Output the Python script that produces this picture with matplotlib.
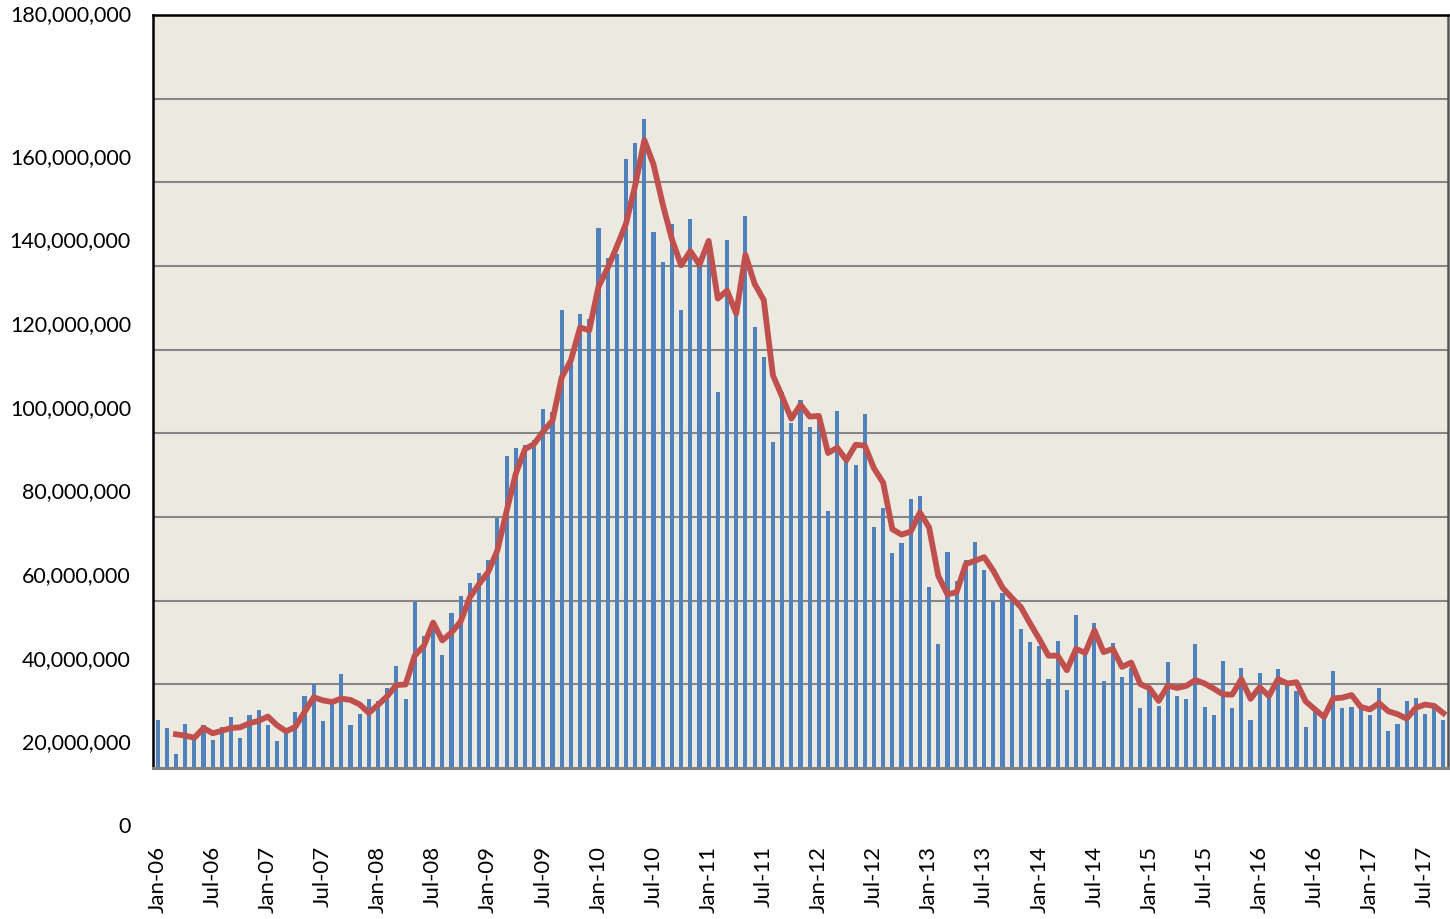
import matplotlib
matplotlib.use("Agg")
import matplotlib.pyplot as plt
import matplotlib.transforms as mtransforms
import pandas as pd

# monthly values in millions, Jan-06 .. Sep-17 (one row per year)
values_m = [
    11.4, 9.5, 3.3, 10.4, 8.0, 10.2, 6.7, 9.8, 12.2, 7.2, 12.7, 13.9,          # 2006
    10.3, 6.5, 9.5, 13.5, 17.2, 20.0, 11.3, 16.0, 22.5, 10.3, 12.8, 16.4,      # 2007
    16.0, 19.1, 24.4, 16.4, 39.8, 31.5, 33.0, 27.0, 37.1, 41.0, 44.3, 46.6,    # 2008
    49.7, 59.8, 74.7, 76.6, 77.3, 78.5, 85.7, 85.0, 109.4, 98.0, 108.5, 107.4, # 2009
    129.1, 122.0, 122.8, 145.6, 149.4, 155.2, 128.1, 121.0, 130.1, 109.4, 131.2, 120.3,  # 2010
    126.5, 89.8, 126.1, 110.0, 132.0, 105.3, 98.3, 78.0, 90.0, 82.5, 88.0, 81.5,         # 2011
    83.0, 61.4, 85.3, 74.0, 72.5, 84.7, 57.7, 62.2, 51.3, 53.9, 64.3, 65.0,    # 2012
    43.2, 29.6, 51.7, 44.8, 49.8, 54.0, 47.4, 40.0, 41.9, 40.2, 33.2, 30.2,    # 2013
    29.1, 21.2, 30.3, 18.6, 36.5, 27.5, 34.7, 20.9, 29.8, 21.8, 24.0, 14.4,    # 2014
    18.8, 14.9, 25.4, 17.1, 16.4, 29.6, 14.6, 12.7, 25.5, 14.4, 23.8, 11.4,    # 2015
    22.7, 17.5, 23.6, 19.5, 18.4, 9.9, 13.8, 12.9, 23.2, 14.4, 14.7, 14.7,     # 2016
    12.6, 19.2, 8.9, 10.5, 16.0, 16.7, 12.8, 15.0, 11.5,                       # 2017
]
months = pd.date_range("2006-01-01", periods=len(values_m), freq="MS")
tick_months = months[::6]
tick_labels = [m.strftime("%b-%y") for m in tick_months]
y_ticks = list(range(0, 181, 20))
y_labels = [f"{v * 1_000_000:,}" for v in y_ticks]

values = pd.Series(values_m) * 1e6
trend = values.rolling(3).mean()  # 3 period moving average trendline

W, H = 1450, 919
fig = plt.figure(figsize=(W / 100, H / 100), dpi=100)
ax = fig.add_axes([153 / W, (H - 768) / H, (1448 - 153) / W, (768 - 15) / H])
ax.set_facecolor("#ECEAE0")

x = list(range(len(values)))
ax.bar(x, values, width=0.45, color="#4F81BD", zorder=2)
ax.plot(x, trend, color="#C0504D", lw=4.2, zorder=3, solid_joinstyle="round")

ax.set_xlim(-0.5, len(values) - 0.5)
ax.set_ylim(0, 180e6)
ax.set_yticks([v * 1e6 for v in y_ticks])
ax.set_yticklabels([])
ax.tick_params(axis="y", length=0)
ax.grid(axis="y", color="#868686", lw=1.5, zorder=1)

ax.set_xticks([months.get_loc(m) for m in tick_months])
ax.set_xticklabels(tick_labels, rotation=90, fontsize=16, family="Lato", va="top")
ax.tick_params(axis="x", length=0, pad=56)

# y labels sit one gridline step lower than their lines (as in the source chart)
shifted = mtransforms.offset_copy(ax.get_yaxis_transform(), fig=fig, x=-22, y=-59, units="dots")
plain = mtransforms.offset_copy(ax.get_yaxis_transform(), fig=fig, x=-22, y=0, units="dots")
for v, lab in zip(y_ticks, y_labels):
    tr = plain if v == 180 else shifted
    ax.text(0, v * 1e6, lab, transform=tr, ha="right", va="center",
            fontsize=15.5, family="Lato", clip_on=False)

for side in ["left", "top"]:
    ax.spines[side].set_color("black")
    ax.spines[side].set_linewidth(1.8)
ax.spines["right"].set_color("#555555")
ax.spines["right"].set_linewidth(1.8)
ax.spines["bottom"].set_color("#808080")
ax.spines["bottom"].set_linewidth(2.2)

fig.savefig("out.png", dpi=100, facecolor="white")
